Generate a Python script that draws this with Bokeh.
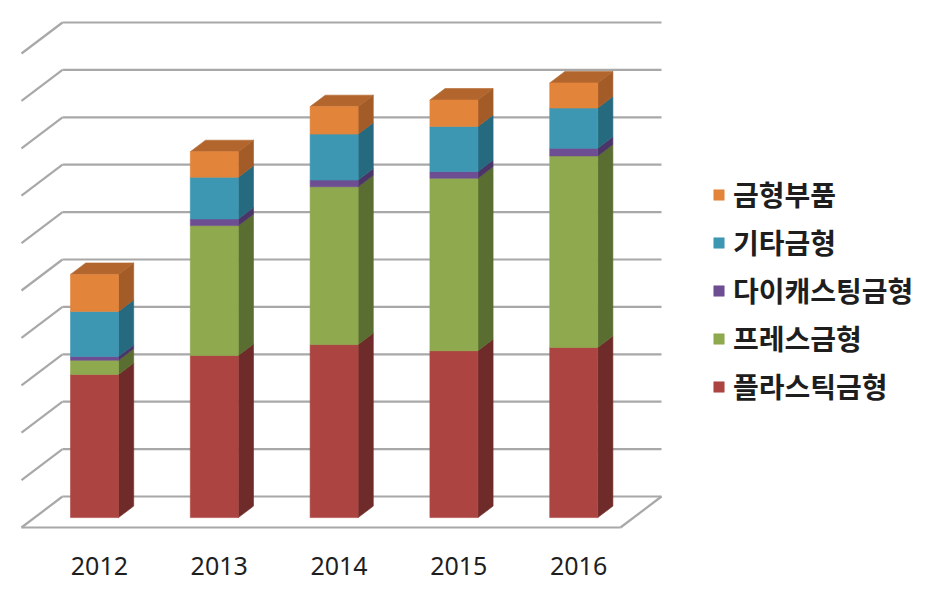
from bokeh.plotting import figure
from bokeh.models import Range1d, Legend, LegendItem
from bokeh.embed import file_html
from bokeh.resources import INLINE
from bokeh.core.properties import value

# ---------------- data ----------------
years = ["2012", "2013", "2014", "2015", "2016"]
series_names = ["플라스틱금형", "프레스금형", "다이캐스팅금형", "기타금형", "금형부품"]
plastic = [3.02, 3.42, 3.65, 3.52, 3.59]
press = [0.30, 2.74, 3.33, 3.64, 4.04]
diecast = [0.08, 0.14, 0.14, 0.14, 0.16]
other = [0.95, 0.88, 0.97, 0.95, 0.85]
parts = [0.78, 0.54, 0.58, 0.56, 0.53]
grid_values = [0, 1, 2, 3, 4, 5, 6, 7, 8, 9, 10]

series_values = [plastic, press, diecast, other, parts]
front_colors = ["#AC4542", "#8EA94E", "#6E4E92", "#3D97B2", "#E2843A"]
side_colors = ["#6E2B29", "#5A6E31", "#4B3468", "#266A80", "#A35C28"]
top_colors = ["#8A3633", "#73893D", "#5B3F7C", "#2F7E98", "#B2662E"]

# ---------------- geometry (pixels) ----------------
W, H = 918, 580
PX_X = 119.8          # px per category step
PX_V = 47.4           # px per value unit
ORIGIN_X = 80.9       # screen x of category 0 at the floor's front edge
ORIGIN_Y = 527        # screen y (from top) of value 0 at the floor's front edge
KX = 41 / PX_X        # oblique depth offset, x
KY = 31 / PX_V        # oblique depth offset, y
HALF_W = 24 / PX_X    # half bar width
D0, D1 = 0.32, 0.69   # bar front / back depth
X_MIN, X_MAX = -0.5, len(years) - 0.5


def proj(x, v, d):
    return x + d * KX, v + d * KY


p = figure(width=W, height=H,
           x_range=Range1d(-ORIGIN_X / PX_X, (W - ORIGIN_X) / PX_X),
           y_range=Range1d(-(H - ORIGIN_Y) / PX_V, ORIGIN_Y / PX_V),
           x_axis_location=None, y_axis_location=None,
           toolbar_location=None, output_backend="svg", min_border=0)
p.grid.visible = False
p.outline_line_color = None
p.background_fill_color = "white"

# ---------------- walls and floor ----------------
gxs, gys = [], []
for k in grid_values:
    a, b = proj(X_MIN, k, 1), proj(X_MAX, k, 1)
    gxs.append([a[0], b[0]]); gys.append([a[1], b[1]])
    a, b = proj(X_MIN, k, 0), proj(X_MIN, k, 1)
    gxs.append([a[0], b[0]]); gys.append([a[1], b[1]])
a, b = proj(X_MIN, 0, 0), proj(X_MAX, 0, 0)
gxs.append([a[0], b[0]]); gys.append([a[1], b[1]])
a, b = proj(X_MAX, 0, 0), proj(X_MAX, 0, 1)
gxs.append([a[0], b[0]]); gys.append([a[1], b[1]])
p.multi_line(gxs, gys, line_color="#A8A8A8", line_width=2.2)

# ---------------- 3D stacked bars ----------------
legend_items = []
base = [0.0] * len(years)
for s, vals in enumerate(series_values):
    fx, fy, sx, sy, tx, ty = [], [], [], [], [], []
    for i, v in enumerate(vals):
        b, t = base[i], base[i] + v
        xl, xr = i - HALF_W, i + HALF_W
        pts = [proj(xl, b, D0), proj(xr, b, D0), proj(xr, t, D0), proj(xl, t, D0)]
        fx.append([q[0] for q in pts]); fy.append([q[1] for q in pts])
        pts = [proj(xr, b, D0), proj(xr, b, D1), proj(xr, t, D1), proj(xr, t, D0)]
        sx.append([q[0] for q in pts]); sy.append([q[1] for q in pts])
        pts = [proj(xl, t, D0), proj(xr, t, D0), proj(xr, t, D1), proj(xl, t, D1)]
        tx.append([q[0] for q in pts]); ty.append([q[1] for q in pts])
        base[i] = t
    p.patches(sx, sy, fill_color=side_colors[s], line_color=side_colors[s], line_width=0.6)
    if s == len(series_values) - 1:
        p.patches(tx, ty, fill_color=top_colors[s], line_color=top_colors[s], line_width=0.6)
    r = p.patches(fx, fy, fill_color=front_colors[s], line_color=front_colors[s], line_width=0.6)
    legend_items.append(LegendItem(label=series_names[s], renderers=[r]))

# ---------------- category labels ----------------
LABEL_DX = 18 / PX_X
LABEL_V = (ORIGIN_Y - 565) / PX_V
p.text(x=[i + LABEL_DX for i in range(len(years))], y=[LABEL_V] * len(years), text=years,
       text_font=value("Noto Sans"), text_font_size="25px", text_color="#1E1E1E",
       text_align="center", text_baseline="middle")

# ---------------- legend ----------------
legend = Legend(items=list(reversed(legend_items)), location=(712, 174),
                glyph_width=13, glyph_height=13, label_standoff=8,
                label_height=40, spacing=8, padding=0, margin=0,
                label_text_font="Noto Sans CJK KR", label_text_font_size="28px",
                label_text_font_style="bold", label_text_color="#1E1E1E",
                border_line_color=None, background_fill_alpha=0)
p.add_layout(legend, "center")

open("out.html", "w").write(file_html(p, INLINE))
